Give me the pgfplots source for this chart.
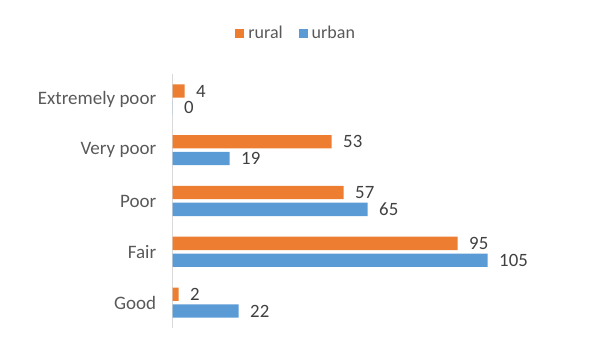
\documentclass[border=0pt]{standalone}
\usepackage{pgfplots}
\pgfplotsset{compat=1.18}
\usepackage{fontspec}
\setmainfont{Carlito}
\definecolor{cOrange}{HTML}{ED7D31}
\definecolor{cBlue}{HTML}{5B9BD5}
\definecolor{cText}{HTML}{595959}
\definecolor{cLab}{HTML}{404040}
\definecolor{cAxis}{HTML}{D9D9D9}
\begin{document}
\begin{tikzpicture}
\useasboundingbox (0,0) rectangle (594pt,353pt);
\begin{axis}[
  at={(172.7pt,25pt)}, anchor=south west,
  scale only axis, width=360pt, height=254pt,
  xmin=0, xmax=120, ymin=-0.5, ymax=4.5,
  clip=false,
  xbar, bar width=13.3pt,
  hide x axis,
  axis y line*=left,
  y axis line style={draw=cAxis, line width=1.2pt},
  major tick length=0pt,
  ytick={0,1,2,3,4},
  yticklabels={Good,Fair,Poor,Very poor,Extremely poor},
  yticklabel style={font=\fontsize{19}{21}\selectfont, text=cText, xshift=-13pt},
  /pgf/number format/assume math mode=true,
  nodes near coords,
  nodes near coords style={font=\fontsize{18.8}{20}\selectfont, text=cLab, anchor=west, xshift=8pt},
  legend columns=2,
  legend style={draw=none, fill=none, at={(0.343,1.161)}, anchor=center,
    font=\fontsize{18}{20}\selectfont, text=cText,
    /tikz/every odd column/.append style={column sep=2pt},
    /tikz/every even column/.append style={column sep=14pt}},
  legend image code/.code={\fill[#1, draw=none] (0pt,-4.5pt) rectangle (9pt,4.5pt);},
]
\addplot[fill=cOrange, draw=none, bar shift=8.4pt] coordinates {(2,0) (95,1) (57,2) (53,3) (4,4)};
\addlegendentry{rural}
\addplot[fill=cBlue, draw=none, bar shift=-8.4pt] coordinates {(22,0) (105,1) (65,2) (19,3) (0,4)};
\addlegendentry{urban}
\end{axis}
\end{tikzpicture}
\end{document}
